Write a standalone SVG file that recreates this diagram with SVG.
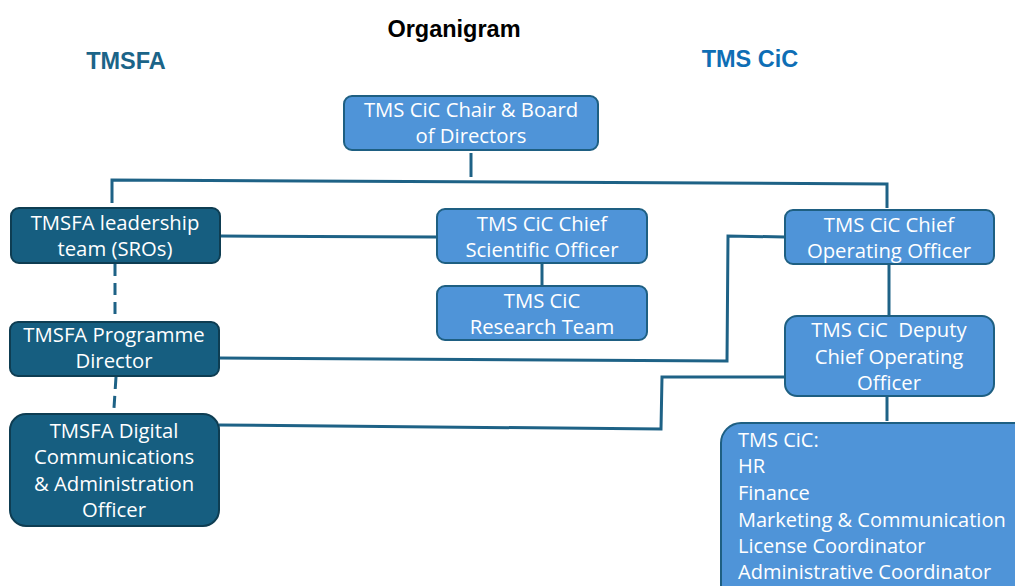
<svg xmlns="http://www.w3.org/2000/svg" width="1015" height="586" viewBox="0 0 1015 586">
<style>
.light{fill:#4F94D8;stroke:#1E5F82;stroke-width:2}
.dark{fill:#165E80;stroke:#0E3D52;stroke-width:2}
.t{font-family:"Open Sans","Liberation Sans",Arial,sans-serif;font-size:20.3px;fill:#ffffff;text-anchor:middle;white-space:pre}
.tl{font-family:"Open Sans","Liberation Sans",Arial,sans-serif;font-size:20px;fill:#ffffff}
.h{font-family:"Liberation Sans",Arial,sans-serif;font-weight:bold;font-size:23.5px}
.c{fill:none;stroke:#1E6286;stroke-width:3}
.d{fill:none;stroke:#1E6286;stroke-width:3;stroke-dasharray:12,7}
</style>
<rect width="1015" height="586" fill="#ffffff"/>
<text class="h" x="454" y="37" text-anchor="middle" fill="#000000">Organigram</text>
<text class="h" x="126" y="69" text-anchor="middle" fill="#1B6488">TMSFA</text>
<text class="h" x="750" y="67" text-anchor="middle" fill="#0E6EB5">TMS CiC</text>
<g id="connectors">
<path class="c" d="M471,153 V177"/>
<path class="c" d="M112,203 V180 L887,184 V208"/>
<path class="c" d="M220,236 L437,237"/>
<path class="c" d="M542,264 V286"/>
<path class="d" d="M115,264 V321"/>
<path class="d" d="M116,377 L114,408"/>
<path class="c" d="M219,358 L727,361 L728,236 L785,237"/>
<path class="c" d="M219,425 L661,429 L662,377 L785,377"/>
<path class="c" d="M889,265 V316"/>
<path class="c" d="M887,397 V421"/>
</g>
<g id="chair">
<rect class="light" x="344" y="96" width="254" height="54" rx="8"/>
<text class="t" x="471" y="117">TMS CiC Chair &amp; Board</text>
<text class="t" x="471" y="143">of Directors</text>
</g>
<g id="leadership">
<rect class="dark" x="11" y="208" width="209" height="55" rx="8"/>
<text class="t" x="115" y="230">TMSFA leadership</text>
<text class="t" x="115" y="256">team (SROs)</text>
</g>
<g id="programme">
<rect class="dark" x="10" y="322" width="209" height="54" rx="8"/>
<text class="t" x="114" y="342">TMSFA Programme</text>
<text class="t" x="114" y="368">Director</text>
</g>
<g id="digital">
<rect class="dark" x="10" y="414" width="209" height="112" rx="16"/>
<text class="t" x="114" y="438">TMSFA Digital</text>
<text class="t" x="114" y="464">Communications</text>
<text class="t" x="114" y="491">&amp; Administration</text>
<text class="t" x="114" y="517">Officer</text>
</g>
<g id="cso">
<rect class="light" x="437" y="209" width="210" height="54" rx="8"/>
<text class="t" x="542" y="231">TMS CiC Chief</text>
<text class="t" x="542" y="257">Scientific Officer</text>
</g>
<g id="research">
<rect class="light" x="437" y="286" width="210" height="54" rx="8"/>
<text class="t" x="542" y="308">TMS CiC</text>
<text class="t" x="542" y="334">Research Team</text>
</g>
<g id="coo">
<rect class="light" x="785" y="210" width="209" height="54" rx="8"/>
<text class="t" x="889" y="232">TMS CiC Chief</text>
<text class="t" x="889" y="258">Operating Officer</text>
</g>
<g id="deputy">
<rect class="light" x="785" y="316" width="209" height="80" rx="12"/>
<text class="t" x="889" y="337">TMS CiC  Deputy</text>
<text class="t" x="889" y="364">Chief Operating</text>
<text class="t" x="889" y="390">Officer</text>
</g>
<g id="functions">
<rect class="light" x="721" y="423" width="320" height="190" rx="20"/>
<text class="tl" x="738" y="447">TMS CiC:</text>
<text class="tl" x="738" y="473">HR</text>
<text class="tl" x="738" y="500">Finance</text>
<text class="tl" x="738" y="527">Marketing &amp; Communication</text>
<text class="tl" x="738" y="553">License Coordinator</text>
<text class="tl" x="738" y="579">Administrative Coordinator</text>
</g>
</svg>
